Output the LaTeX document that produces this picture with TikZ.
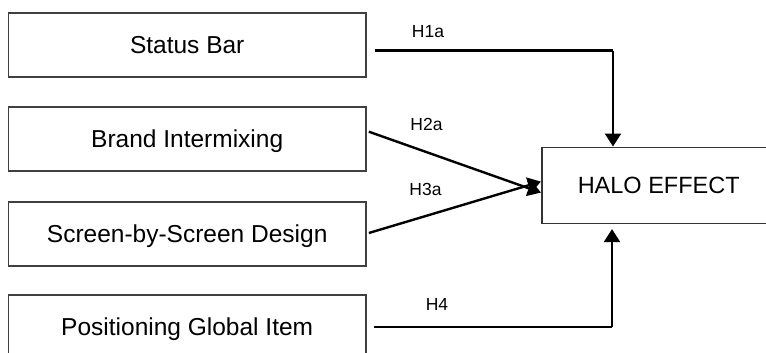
\documentclass[tikz,border=0pt]{standalone}
\usepackage{fontspec}
\setmainfont{Liberation Sans}
\usetikzlibrary{arrows.meta,calc}
\begin{document}
\begin{tikzpicture}[x=1pt,y=-1pt,
  factor/.style={draw=black!75,line width=1.8pt,minimum width=357.5pt,minimum height=64pt,inner sep=0pt,
    font=\fontsize{24.5}{28}\selectfont,text height=17.5pt,text depth=0pt},
  outcome/.style={draw=black!80,line width=1.6pt,minimum width=234pt,minimum height=76pt,inner sep=0pt,
    font=\fontsize{23.5}{28}\selectfont,text height=16.8pt,text depth=0pt},
  link/.style={line width=2.4pt,black},
  arr/.style={link,-{Triangle[length=13pt,width=16pt]}},
  hyp/.style={font=\fontsize{17.5}{20}\selectfont,anchor=base,inner sep=0pt}]
\useasboundingbox (0,0) rectangle (766,353);
\begin{scope}
\clip (0,0) rectangle (766,353);
\node[factor] (s1) at (187.2,45) {Status Bar};
\node[factor] (s2) at (187.2,139.2) {Brand Intermixing};
\node[factor] (s3) at (187.2,233.7) {Screen-by-Screen Design};
\node[factor] (s4) at (187.2,327) {Positioning Global Item};
\node[outcome] (halo) at (658.7,185.3) {HALO EFFECT};
\end{scope}
\coordinate (c1) at (613,50.7);
\coordinate (c4) at (612,326.7);
\draw[link] ([shift={(8,5.7)}]s1.east) -- (c1);
\draw[arr] (c1) -- (c1 |- halo.north);
\draw[arr] ([shift={(2,-7.5)}]s2.east) -- ([yshift=-7.3]halo.west);
\draw[arr] ([shift={(2,-0.7)}]s3.east) -- ([yshift=3.7]halo.west);
\draw[link] ([xshift=7]s4.east |- c4) -- (c4);
\draw[arr] (c4) -- ($(c4 |- halo.south)+(0,5)$);
\node[hyp] (h1) at (428,38) {H1a};
\node[hyp] (h2) at (426.5,130) {H2a};
\node[hyp] (h3) at (425.5,195) {H3a};
\node[hyp] (h4) at (437,310.7) {H4};
\end{tikzpicture}
\end{document}
